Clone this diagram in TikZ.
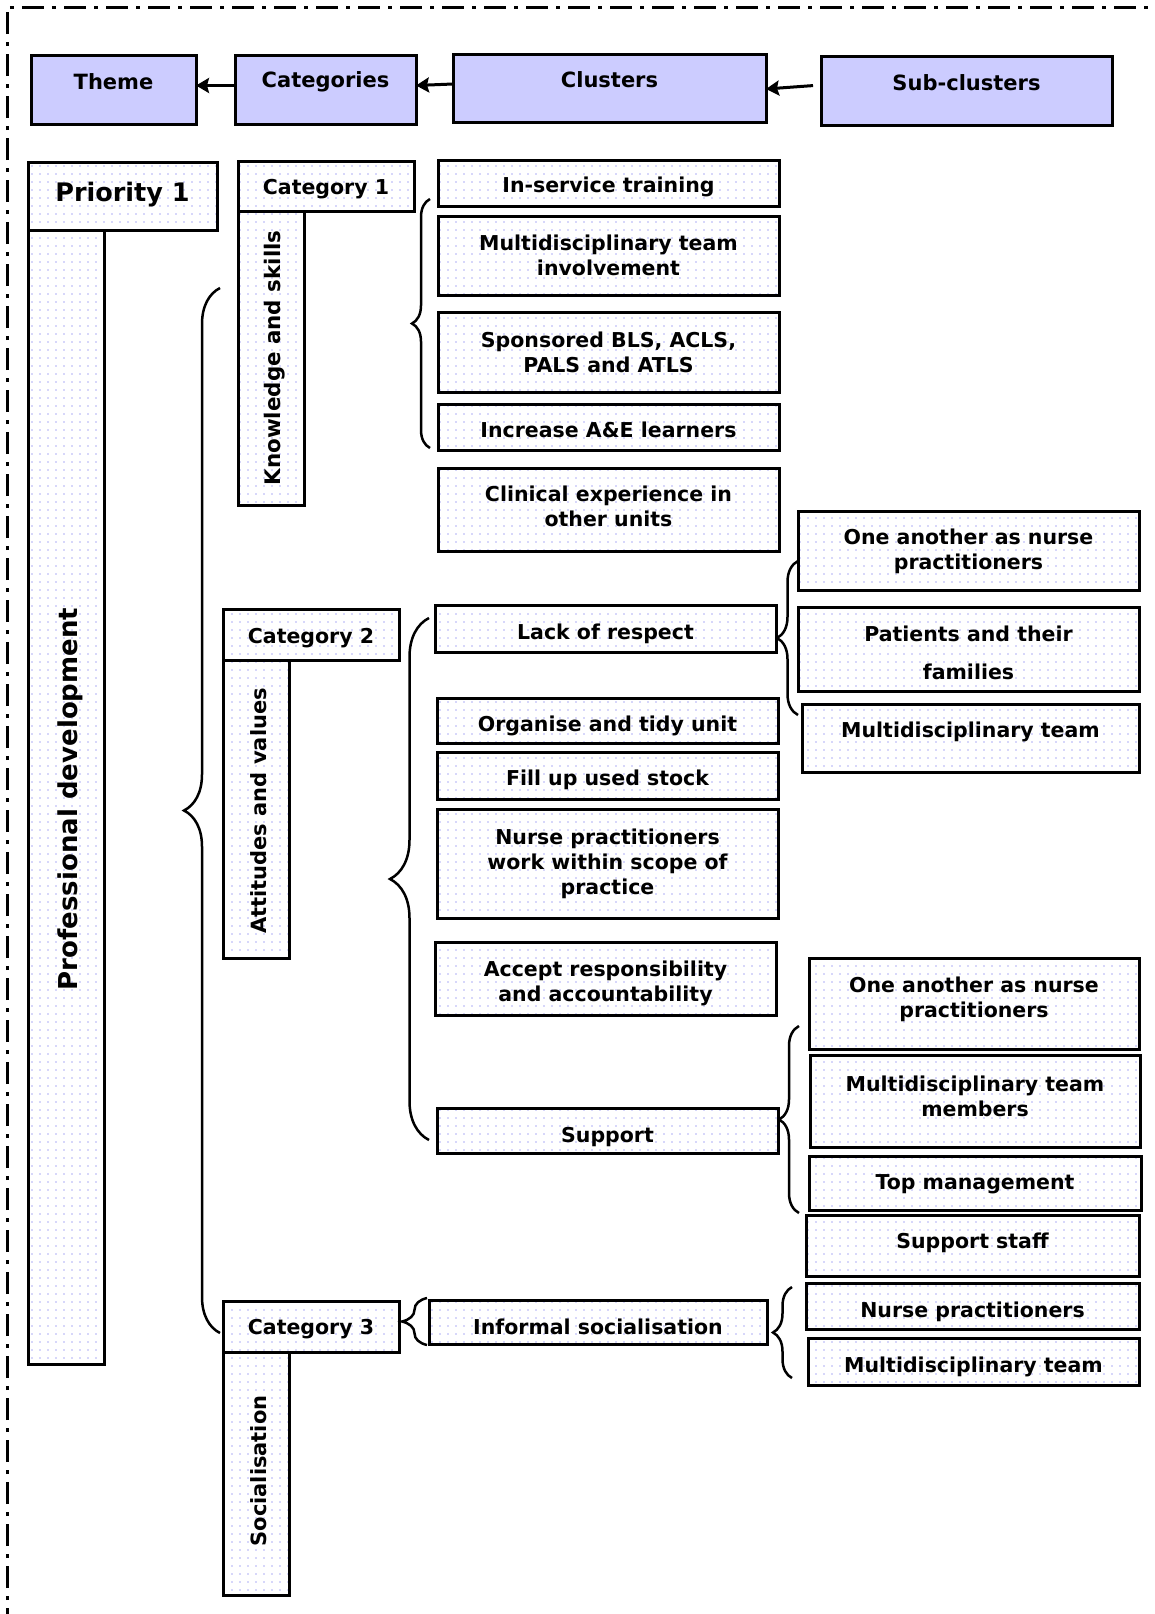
\documentclass[tikz,border=0pt]{standalone}
\usepackage{fontspec}
\setmainfont{DejaVu Sans}
\usetikzlibrary{arrows.meta,decorations.pathreplacing,patterns.meta}

\definecolor{hdfill}{RGB}{204,204,255}
\definecolor{dotc}{RGB}{175,175,245}

% sparse lavender dot texture used inside the boxes
\tikzdeclarepattern{
  name=ldots,
  type=uncolored,
  bounding box={(-4pt,-4pt) and (4pt,4pt)},
  tile size={(8pt,8pt)},
  code={\fill (0pt,0pt) circle (0.95pt);}
}

% \cbox[text options]{box style}{name}{x1}{y1}{x2}{y2}{text}
\newcommand\cbox[8][]{%
  \node[#2,minimum width={#6-#4},minimum height={#7-#5}] (#3) at ({(#4+#6)/2},{(#5+#7)/2}) {};
  \node[txt,#1] (#3-t) at (#3.center) {#8};}

\begin{document}
\begin{tikzpicture}[x=1pt,y=-1pt,
  box/.style={draw=black,line width=3pt,inner sep=0pt,outer sep=0pt,pattern=ldots,pattern color=dotc},
  hbox/.style={draw=black,line width=3pt,inner sep=0pt,outer sep=0pt,fill=hdfill},
  txt/.style={inner sep=0pt,align=center,font=\fontsize{20.5}{25}\selectfont\bfseries},
  hd/.style={font=\fontsize{21}{25}\selectfont\bfseries,yshift=8pt},
  cat/.style={font=\fontsize{20.5}{25}\selectfont\bfseries},
  vert/.style={rotate=90,font=\fontsize{21}{25}\selectfont\bfseries},
  arr/.style={line width=3pt,-{Stealth[length=13pt,width=15pt,inset=2pt]}},
  brc/.style={line width=2.5pt,decorate,decoration={brace,amplitude=#1}},
  frame/.style={line width=3pt,dash pattern=on 22pt off 8pt on 4pt off 8pt}
]
\useasboundingbox (0,0) rectangle (1154,1614);

% page frame
\draw[frame] (7,1630) -- (7,7) -- (1170,7);

% legend row
\cbox[hd]{hbox}{theme}{31}{55}{196}{124}{Theme}
\cbox[hd]{hbox}{cats}{235}{55}{416}{124}{Categories}
\cbox[hd]{hbox}{clus}{453}{54}{766}{122}{Clusters}
\cbox[hd]{hbox}{subc}{821}{56}{1112}{125}{Sub-clusters}
\draw[arr] ([yshift=4pt]cats.west) -- ([yshift=4pt]theme.east);
\draw[arr] ([yshift=4pt]clus.west) -- ([yshift=4pt]cats.east);
\draw[arr,shorten <=8pt] ([yshift=5.5pt]subc.west) -- ([yshift=-1pt]clus.east);

% theme column
\cbox[font=\fontsize{25.5}{30}\selectfont\bfseries,yshift=1pt]{box}{prio}{28}{162}{217}{230}{Priority 1}
\cbox[xshift=4pt,yshift=-2pt,vert,font=\fontsize{26}{30}\selectfont\bfseries]{box}{pd}{28}{230}{104}{1364}{Professional development}

% categories
\cbox[cat,yshift=-3pt]{box}{cat1}{238}{161}{414}{211}{Category 1}
\cbox[xshift=4pt,vert,font=\fontsize{21.4}{25}\selectfont\bfseries]{box}{ks}{238}{211}{304}{505}{Knowledge and skills}
\cbox[cat,yshift=-4pt]{box}{cat2}{223}{609}{399}{660}{Category 2}
\cbox[xshift=3pt,yshift=-2pt,vert]{box}{av}{223}{660}{289}{958}{Attitudes and values}
\cbox[cat,yshift=-3pt]{box}{cat3}{223}{1301}{399}{1352}{Category 3}
\cbox[xshift=3pt,yshift=2.5pt,vert]{box}{soc}{223}{1352}{289}{1595}{Socialisation}

% clusters of category 1
\cbox[yshift=-4pt]{box}{c11}{438}{160}{779}{206}{In-service training}
\cbox{box}{c12}{438}{216}{779}{295}{Multidisciplinary team\\involvement}
\cbox{box}{c13}{438}{312}{779}{392}{Sponsored BLS, ACLS,\\PALS and ATLS}
\cbox[yshift=-3pt]{box}{c14}{438}{404}{779}{450}{Increase A\&E learners}
\cbox[yshift=3pt]{box}{c15}{438}{468}{779}{551}{Clinical experience in\\other units}

% clusters of category 2
\cbox[yshift=-5pt]{box}{c21}{435}{605}{776}{652}{Lack of respect}
\cbox[yshift=-5pt]{box}{c22}{437}{698}{778}{743}{Organise and tidy unit}
\cbox[yshift=-4pt]{box}{c23}{437}{752}{778}{799}{Fill up used stock}
\cbox{box}{c24}{437}{809}{778}{918}{Nurse practitioners\\work within scope of\\practice}
\cbox[yshift=-5pt]{box}{c25}{435}{942}{776}{1015}{Accept responsibility\\and accountability}
\cbox[yshift=-7pt]{box}{c26}{437}{1108}{778}{1153}{Support}

% cluster of category 3
\cbox[yshift=-5pt]{box}{c31}{429}{1300}{767}{1344}{Informal socialisation}

% sub-clusters of "Lack of respect"
\cbox[yshift=-1pt]{box}{s211}{798}{511}{1139}{590}{One another as nurse\\practitioners}
\cbox[yshift=-4pt]{box}{s212}{798}{607}{1139}{691}{Patients and their\\[13pt]families}
\cbox[yshift=6pt]{box}{s213}{802}{704}{1139}{772}{Multidisciplinary team}

% sub-clusters of "Support"
\cbox[yshift=4pt]{box}{s261}{809}{958}{1139}{1049}{One another as nurse\\practitioners}
\cbox[yshift=5pt]{box}{s262}{810}{1055}{1140}{1147}{Multidisciplinary team\\members}
\cbox[yshift=-1pt]{box}{s263}{809}{1156}{1141}{1210}{Top management}
\cbox[yshift=3pt]{box}{s264}{806}{1215}{1139}{1276}{Support staff}

% sub-clusters of "Informal socialisation"
\cbox[yshift=-6pt]{box}{s311}{806}{1283}{1139}{1329}{Nurse practitioners}
\cbox[yshift=-5pt]{box}{s312}{808}{1338}{1139}{1385}{Multidisciplinary team}

% brace end points
\coordinate (bigTop) at (220,288);
\coordinate (bigBot) at (220,1333);
\coordinate (b1Top) at (430,199);
\coordinate (b1Bot) at (430,448);
\coordinate (b2Top) at (429,618);
\coordinate (b2Bot) at (429,1140);
\coordinate (b21Top) at (798,561);
\coordinate (b21Bot) at (798,715);
\coordinate (b26Top) at (799,1026);
\coordinate (b26Bot) at (799,1213);
\coordinate (b3Top) at (427,1298);
\coordinate (b3Bot) at (427,1345);
\coordinate (b31Top) at (792,1287);
\coordinate (b31Bot) at (792,1378);

% braces
\draw[brc=36pt] (bigBot) -- (bigTop);
\draw[brc=18pt] (b1Bot) -- (b1Top);
\draw[brc=39pt] (b2Bot) -- (b2Top);
\draw[brc=21pt] (b21Bot) -- (b21Top);
\draw[brc=20pt] (b26Bot) -- (b26Top);
\draw[brc=25pt] (b3Bot) -- (b3Top);
\draw[brc=19pt] (b31Bot) -- (b31Top);
\end{tikzpicture}
\end{document}
